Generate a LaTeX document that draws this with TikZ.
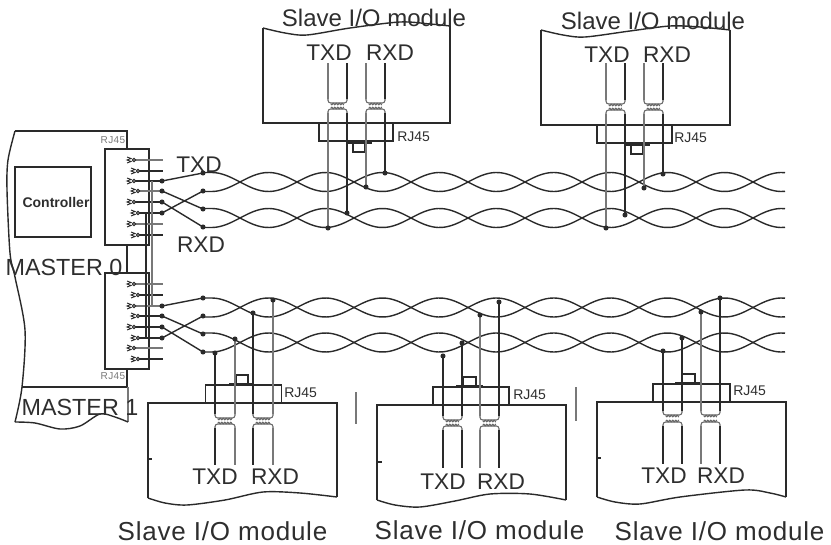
\documentclass[tikz,border=0pt]{standalone}
\usepackage{fontspec}
\setmainfont{Liberation Sans}
\newfontfamily\spfont[LetterSpace=3]{Liberation Sans}
\newfontfamily\rjfont[LetterSpace=4]{Liberation Sans}
\definecolor{ink}{HTML}{2A2A2A}
\definecolor{gry}{HTML}{787878}
\definecolor{txt}{HTML}{2E2E2E}
\tikzset{
  wire/.style={ink,line width=1.05pt},
  blk/.style={ink,line width=1.05pt},
  gro/.style={gry,line width=2.1pt},
  outl/.style={ink,line width=1.05pt},
  coilw/.style={gry!85!black,line width=.8pt},
  lblbig/.style={text=txt,inner sep=0pt,font=\spfont\fontsize{19.5}{20}\selectfont},
  lbltop/.style={text=txt,inner sep=0pt,font=\fontsize{18}{20}\selectfont},
  sig/.style={text=txt,inner sep=0pt,font=\fontsize{17}{20}\selectfont},
  rj/.style={text=txt,inner sep=0pt,anchor=west,font=\fontsize{10.5}{12}\selectfont},
  rjs/.style={text=gry,inner sep=0pt,font=\rjfont\fontsize{7.5}{8}\selectfont},
}
\newcommand\twist[1]{%
  \draw[wire] (203,{#1-9.5}) -- (211.5,{#1-9.5}) -- plot[domain=211.5:785,samples=130,smooth] (\x,{#1-9.5*cos(3.15789*(\x-211.5))});
  \draw[wire] (203,{#1+9.5}) -- (211.5,{#1+9.5}) -- plot[domain=211.5:785,samples=130,smooth] (\x,{#1+9.5*cos(3.15789*(\x-211.5))});
}
% coil half: x1,x2,y of scallop, sign of the leg direction
\newcommand\coil[4]{%
  \draw[coilw,rounded corners=2] (#1,{#3+#4*5}) -- (#1,#3) -- (#2,#3) -- (#2,{#3+#4*5});
  \pgfmathsetmacro\ca{#1+3}\pgfmathsetmacro\cb{#2-3}
  \draw[coilw] plot[domain=\ca:\cb,samples=30] (\x,{#3-#4*1-#4*.8*sin(120*(\x-#1))});
}
% dot x/y/style; near coil y, far coil y, far end y
\newcommand\drops[4]{%
  \foreach \xx/\yy/\ss in {#1}{%
    \coordinate (dot\xx) at (\xx,\yy);
    \draw[\ss] (dot\xx) -- (\xx,#2);
    \draw[\ss] (\xx,#3) -- (\xx,#4);
    \fill[ink] (dot\xx) circle (1.9pt);
  }%
}
\newcommand\pins[2]{% list y/style/kind
  \foreach \yy/\ss/\kk in {#1}{%
    \pgfmathsetmacro\gx{\kk==1?127:131}
    \pgfmathsetmacro\cx{\kk==1?134:138}
    \draw[\ss] (\cx,\yy) -- (#2,\yy);
    \draw[ink,line width=.7pt] (\gx,\yy-3) -- (\gx+4,\yy-1.5) -- (\gx,\yy) -- (\gx+4,\yy+1.5) -- (\gx,\yy+3);
    \draw[ink,line width=.7pt,fill=white] (\cx,\yy) circle (1.2pt);
  }%
}
\begin{document}
\begin{tikzpicture}[x=.75pt,y=-.75pt]
\useasboundingbox (0,0) rectangle (831,545);
% master outline
\draw[outl] plot[smooth] coordinates {(15,131) (8,160) (7,190) (10,253) (15,277) (25,330) (22,387) (15,422)};
\draw[outl] (15,131) -- (127,131) -- (127,149);
\draw[outl] (127,245) -- (127,273);
\draw[outl] (127,369) -- (127,387) -- (22,387);
\draw[gry,line width=1.2pt] (128,387) -- (128,422);
\draw[outl] plot[smooth] coordinates {(15,422) (35,423) (60,429) (80,426) (100,414) (115,417) (128,422)};
% connector boxes
\node[draw=ink,line width=1pt,minimum width=33pt,minimum height=72pt,inner sep=0pt] (conA) at (127,197) {};
\node[draw=ink,line width=1pt,minimum width=33pt,minimum height=72pt,inner sep=0pt] (conB) at (127,321) {};
\node[draw=ink,line width=1pt,minimum width=57pt,minimum height=52.5pt,inner sep=0pt] (ctrl) at (53,202) {};
\node[text=txt,inner sep=0pt,font=\bfseries\fontsize{10.5}{12}\selectfont] (ctrlT) at (56,202) {Controller};
\node[rjs] (rjA) at (113,140) {RJ45};
\node[rjs] (rjB) at (113,376) {RJ45};
\node[sig,font=\fontsize{17.5}{20}\selectfont] (m0) at (64,267) {MASTER 0};
\node[sig,font=\fontsize{17.5}{20}\selectfont] (m1) at (80,407) {MASTER 1};
\node[sig] (txdM) at (199,165) {TXD};
\node[sig] (rxdM) at (201,245) {RXD};
% twisted pairs
\twist{182}\twist{218}\twist{307.5}\twist{342.5}
% pin fields
\pins{160/gro/1,171/blk/2,181/blk/1,191/gro/2,202/blk/1,213/blk/2,224/gro/1,235/blk/2}{163}
\pins{284/gro/1,295/blk/2,306/gro/1,316/blk/2,327/blk/1,338/blk/2,348/gro/1,359/blk/2}{163}
\draw[gro,line width=1.2pt] (152,181) -- (152,306);
\draw[blk] (146,213) -- (146,338);
% fan-out
\foreach \n/\ya/\yb in {a/181/173,b/191/209,c/202/227,d/213/191,e/306/298,f/316/334,g/327/352,h/338/316}{
  \coordinate (s\n) at (162,\ya);
  \coordinate (t\n) at (203,\yb);
  \draw[wire] (s\n) -- (t\n);
  \fill[ink] (s\n) circle (1.9pt);
  \fill[ink] (t\n) circle (1.9pt);
}
% top module 1
\draw[outl] plot[smooth] coordinates {(263,28) (285,33) (307,35) (350,28) (400,22) (430,24) (450,26)};
\draw[outl] (263,28) -- (263,123) -- (450,123) -- (450,26);
\node[draw=ink,line width=1pt,minimum width=55.5pt,minimum height=13.5pt,inner sep=0pt] (rj1) at (356,132) {};
\draw[outl] (347,143) -- (372,143);
\draw[outl] (353,143) -- (353,152) -- (365,152) -- (365,143);
\node[rj] (rj1t) at (397,137) {RJ45};
\coil{328}{347}{103}{-1}\coil{328}{347}{109}{1}\coil{366}{385}{103}{-1}\coil{366}{385}{109}{1}
\drops{328/228/gro,347/213/blk,366/187/gro,385/173/blk}{113}{99}{63}
\node[lbltop] (s1) at (374,18) {Slave I/O module};
\node[sig] (t1) at (329,53) {TXD};
\node[sig] (r1) at (390,53) {RXD};
% top module 2
\draw[outl] plot[smooth] coordinates {(541,30) (563,35) (585,37) (630,31) (670,26) (700,27) (730,30)};
\draw[outl] (541,30) -- (541,125) -- (730,125) -- (730,30);
\node[draw=ink,line width=1pt,minimum width=56.25pt,minimum height=13.5pt,inner sep=0pt] (rj2) at (634.5,134) {};
\draw[outl] (625,145) -- (650,145);
\draw[outl] (631,145) -- (631,154) -- (643,154) -- (643,145);
\node[rj] (rj2t) at (674,138) {RJ45};
\coil{606}{625}{104}{-1}\coil{606}{625}{110}{1}\coil{644}{663}{104}{-1}\coil{644}{663}{110}{1}
\drops{606/228/gro,625/215/blk,644/188/gro,663/174/blk}{114}{100}{63}
\node[lbltop] (s2) at (653,21) {Slave I/O module};
\node[sig] (t2) at (607,55) {TXD};
\node[sig] (r2) at (667,55) {RXD};
% bottom module A
\draw[outl] (148,498) -- (148,403) -- (337,403) -- (337,497);
\draw[outl] (148,459) -- (152,459);
\draw[outl] plot[smooth] coordinates {(148,498) (165,503) (187,505) (225,500) (263,492) (300,493) (337,497)};
\node[draw=ink,line width=1pt,minimum width=57pt,minimum height=13.5pt,inner sep=0pt] (rj3) at (243.5,394) {};
\draw[outl] (229,383.5) -- (253,383.5);
\draw[outl] (236,384) -- (236,375) -- (248,375) -- (248,384);
\node[rj] (rj3t) at (284,393) {RJ45};
\coil{215}{235}{418}{-1}\coil{215}{235}{424}{1}\coil{253}{273}{418}{-1}\coil{253}{273}{424}{1}
\drops{215/353/blk,235/339/gro,253/313/blk,273/300/gro}{414}{428}{465}
\node[sig] (t3) at (215,477) {TXD};
\node[sig] (r3) at (275,477) {RXD};
\node[lblbig] (s3) at (222.5,531) {Slave I/O module};
% bottom module B
\draw[outl] (377,500) -- (377,405) -- (566,405) -- (566,500);
\draw[outl] (377,462) -- (382,462);
\draw[outl] plot[smooth] coordinates {(377,500) (395,505) (420,507) (455,501) (490,494) (530,494) (566,500)};
\node[draw=ink,line width=1pt,minimum width=57pt,minimum height=13.5pt,inner sep=0pt] (rj4) at (471,396) {};
\draw[outl] (456,386) -- (483,386);
\draw[outl] (463,386) -- (463,377) -- (476,377) -- (476,386);
\node[rj] (rj4t) at (513,395) {RJ45};
\coil{443}{462}{420}{-1}\coil{443}{462}{426}{1}\coil{480}{499}{420}{-1}\coil{480}{499}{426}{1}
\drops{443/356/blk,462/343/blk,480/315/gro,499/302/blk}{416}{430}{468}
\node[sig] (t4) at (443,482) {TXD};
\node[sig] (r4) at (501,482) {RXD};
\node[lblbig] (s4) at (479.5,530) {Slave I/O module};
\draw[gry,line width=1pt] (356,392) -- (356,424);
\draw[gry,line width=1pt] (576,387) -- (576,421);
% bottom module C
\draw[outl] (597,497) -- (597,402) -- (786,402) -- (786,497);
\draw[outl] (597,458) -- (601,458);
\draw[outl] plot[smooth] coordinates {(597,497) (615,502) (640,504) (680,497) (745,490) (770,493) (786,497)};
\node[draw=ink,line width=1pt,minimum width=57.75pt,minimum height=13.5pt,inner sep=0pt] (rj5) at (691.5,393) {};
\draw[outl] (675,382.5) -- (702,382.5);
\draw[outl] (682,383) -- (682,374) -- (695,374) -- (695,383);
\node[rj] (rj5t) at (733,391) {RJ45};
\coil{663}{682}{415}{-1}\coil{663}{682}{422}{1}\coil{701}{720}{415}{-1}\coil{701}{720}{422}{1}
\drops{663/351/blk,682/338/blk,701/312/gro,720/298/blk}{411}{426}{464}
\node[sig] (t5) at (664,476) {TXD};
\node[sig] (r5) at (721,476) {RXD};
\node[lblbig] (s5) at (719.5,531) {Slave I/O module};
\end{tikzpicture}
\end{document}
